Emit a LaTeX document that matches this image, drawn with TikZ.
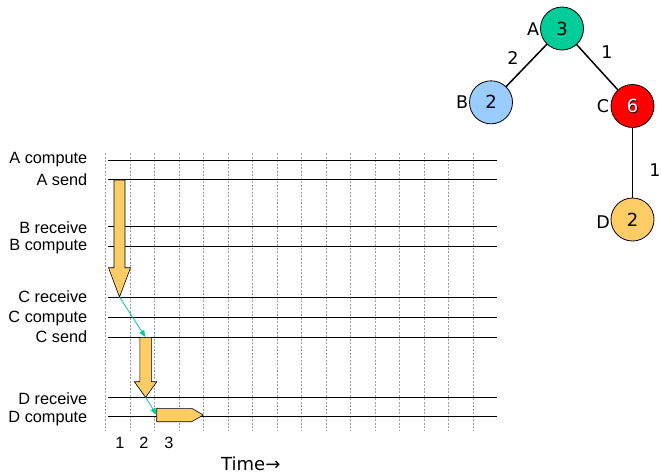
\documentclass[tikz,border=0pt]{standalone}
\usepackage{fontspec}
\setmainfont{Liberation Sans}
\newfontfamily\treefont{DejaVu Sans}
\usetikzlibrary{arrows.meta}
\definecolor{tealc}{HTML}{00CC99}
\definecolor{bluec}{HTML}{99CCFF}
\definecolor{orangec}{HTML}{FFCC66}
\definecolor{gridc}{HTML}{A0A0A0}
\begin{document}
\begin{tikzpicture}[x=1pt,y=-1pt,
  tline/.style={black, line width=0.9pt},
  gridline/.style={gridc, dash pattern=on 2pt off 1.5pt, line width=0.8pt},
  lbl/.style={anchor=east, inner sep=0pt, font=\fontsize{16.3}{18}\selectfont},
  blk/.style={fill=orangec, draw=black, line width=0.6pt},
  conn/.style={draw=tealc, line width=0.8pt, -{Latex[length=7pt,width=6pt]}},
  vert/.style={circle, draw=black, line width=0.8pt, minimum size=43pt, inner sep=0pt, font=\treefont\fontsize{18}{18}\selectfont},
  vlabel/.style={inner sep=0pt, font=\treefont\fontsize{17.5}{18}\selectfont},
  edge/.style={black, line width=1.5pt},
  numlbl/.style={inner sep=0pt, font=\fontsize{16.3}{18}\selectfont}]
\useasboundingbox (0,0) rectangle (661,474);
% grid
\foreach \k in {0,...,15} {
  \draw[gridline] (105.5+24.5*\k,153) -- (105.5+24.5*\k,430);
}
% rows
\foreach \n/\y/\ty/\t in {ac/160.7/159.3/A compute, as/179.5/179.7/A send, br/226.3/227.7/B receive, bc/246.3/247/B compute, cr/297/297/C receive, cc/317.5/318.7/C compute, cs/337.3/337/C send, dr/397.3/398.7/D receive, dc/416.7/418.5/D compute} {
  \coordinate (\n L) at (108,\y);
  \coordinate (\n R) at (497,\y);
  \draw[tline] (\n L) -- (\n R);
  \node[lbl] (\n T) at (87.5,\ty) {\t};
}
% block arrows
\draw[blk] (114,180) -- (125,180) -- (125,267.7) -- (130.5,267.7) -- (119.5,297) -- (108.5,267.7) -- (114,267.7) -- cycle;
\coordinate (tipone) at (119.5,297);
\draw[blk] (139.8,337.3) -- (151.4,337.3) -- (151.4,381.7) -- (156.8,381.7) -- (145.6,397.3) -- (134.3,381.7) -- (139.8,381.7) -- cycle;
\coordinate (toptwo) at (145.6,337.3);
\coordinate (tiptwo) at (145.6,397.3);
\draw[blk] (156.7,408.3) -- (191.7,408.3) -- (203.3,415) -- (191.7,421.7) -- (156.7,421.7) -- cycle;
\coordinate (leftthree) at (156.7,415);
% teal connectors
\draw[conn] (tipone) -- (toptwo);
\draw[conn] (tiptwo) -- (leftthree);
% time numbers
\node[numlbl] (n1) at (120,443) {1};
\node[numlbl] (n2) at (144,443) {2};
\node[numlbl] (n3) at (169,443) {3};
\node[anchor=west, inner sep=0pt, font=\treefont\fontsize{18}{18}\selectfont] (time) at (221,464) {Time→};
% tree
\node[vert, fill=tealc] (A) at (562,28.5) {3};
\node[vert, fill=bluec] (B) at (491,102.3) {2};
\node[vert, fill=red] (C) at (632.5,106) {};
\node[inner sep=0pt, font=\treefont\fontsize{18}{18}\selectfont, text=black] at ([shift={(0.9,0.9)}]C.center) {6};
\node[inner sep=0pt, font=\treefont\fontsize{18}{18}\selectfont, text=white] (Cn) at (C.center) {6};
\node[vert, fill=orangec] (D) at (632.5,219.5) {2};
\draw[edge] (A) -- (B);
\draw[edge] (A) -- (C);
\draw[edge] (C) -- (D);
\node[vlabel] (Al) at (533,29) {A};
\node[vlabel] (Bl) at (462,102) {B};
\node[vlabel] (Cl) at (603,106) {C};
\node[vlabel] (Dl) at (603,222) {D};
\node[vlabel] (e1) at (513,58) {2};
\node[vlabel] (e2) at (607,52) {1};
\node[vlabel] (e3) at (655,170) {1};
\end{tikzpicture}
\end{document}
